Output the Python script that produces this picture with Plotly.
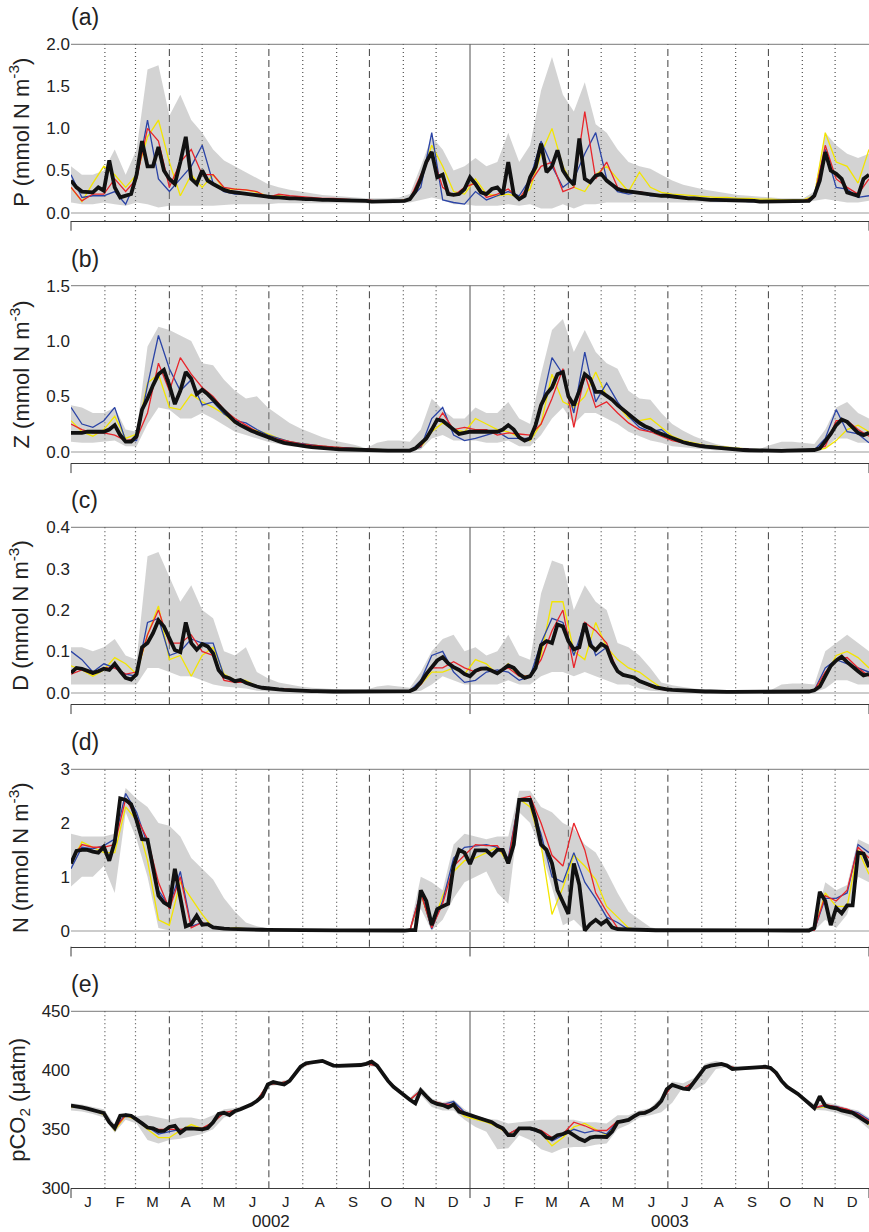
import plotly.graph_objects as go

# ---------------- time grids (days since 1 Jan of year 0002, 365-day years) ----------------
days_fine = list(range(0, 731, 5))      # mean curves
days_coarse = list(range(0, 731, 10))   # ensemble spread and members

month_lengths = [31, 28, 31, 30, 31, 30, 31, 31, 30, 31, 30, 31]
month_letters = ["J", "F", "M", "A", "M", "J", "J", "A", "S", "O", "N", "D"]
year_labels = ["0002", "0003"]

# ---------------- (a) P ----------------
P_mean = [0.38,0.30,0.25,0.24,0.24,0.30,0.26,0.62,0.30,0.18,
          0.20,0.22,0.45,0.85,0.55,0.55,0.78,0.50,0.40,0.34,
          0.60,0.90,0.40,0.34,0.50,0.38,0.34,0.30,0.27,0.25,
          0.24,0.23,0.22,0.21,0.21,0.20,0.19,0.18,0.18,0.17,
          0.17,0.17,0.16,0.16,0.16,0.15,0.15,0.15,0.15,0.14,
          0.14,0.14,0.14,0.14,0.14,0.13,0.13,0.13,0.13,0.13,
          0.13,0.14,0.16,0.25,0.40,0.60,0.72,0.42,0.45,0.22,
          0.21,0.22,0.28,0.42,0.34,0.24,0.22,0.28,0.30,0.22,
          0.60,0.22,0.16,0.20,0.42,0.54,0.82,0.48,0.55,0.74,
          0.50,0.40,0.33,0.88,0.40,0.36,0.44,0.46,0.38,0.33,
          0.28,0.26,0.25,0.24,0.23,0.22,0.22,0.21,0.20,0.20,
          0.19,0.18,0.18,0.17,0.17,0.16,0.16,0.15,0.15,0.15,
          0.15,0.14,0.14,0.14,0.14,0.14,0.13,0.13,0.13,0.13,
          0.13,0.13,0.13,0.13,0.14,0.14,0.20,0.38,0.72,0.50,
          0.46,0.40,0.24,0.22,0.20,0.40,0.45]
P_lo = [0.12,0.10,0.10,0.12,0.10,0.08,0.12,0.10,0.06,0.08,
        0.08,0.08,0.08,0.08,0.09,0.10,0.10,0.10,0.10,0.11,
        0.11,0.11,0.11,0.11,0.11,0.11,0.11,0.11,0.11,0.11,
        0.11,0.12,0.15,0.18,0.15,0.10,0.10,0.08,0.08,0.08,
        0.10,0.08,0.10,0.05,0.05,0.10,0.05,0.10,0.10,0.12,
        0.12,0.12,0.12,0.12,0.12,0.12,0.12,0.12,0.12,0.12,
        0.12,0.12,0.12,0.12,0.12,0.12,0.12,0.12,0.14,0.16,
        0.14,0.12,0.12,0.14]
P_hi = [0.55,0.45,0.45,0.50,0.75,0.45,0.75,1.70,1.75,1.15,
        1.40,1.10,0.95,0.75,0.62,0.55,0.48,0.40,0.34,0.30,
        0.27,0.25,0.23,0.21,0.20,0.19,0.18,0.17,0.17,0.17,
        0.18,0.22,0.55,0.90,0.75,0.50,0.55,0.65,0.55,0.60,
        0.95,0.60,0.80,1.45,1.85,1.40,1.20,1.55,1.05,0.95,
        0.75,0.60,0.55,0.52,0.45,0.38,0.33,0.30,0.27,0.25,
        0.23,0.21,0.20,0.19,0.18,0.17,0.17,0.17,0.25,0.95,
        0.80,0.70,0.65,0.70]
P_red = [0.30,0.14,0.22,0.22,0.40,0.25,0.40,1.00,0.85,0.30,
         0.60,0.75,0.45,0.45,0.30,0.28,0.27,0.25,0.18,0.22,
         0.20,0.19,0.18,0.17,0.17,0.16,0.15,0.15,0.14,0.14,
         0.14,0.16,0.45,0.70,0.30,0.20,0.30,0.35,0.18,0.22,
         0.28,0.16,0.35,0.55,0.60,0.25,0.30,1.20,0.40,0.60,
         0.30,0.25,0.25,0.22,0.20,0.19,0.18,0.17,0.16,0.15,
         0.15,0.14,0.14,0.13,0.13,0.13,0.13,0.14,0.18,0.80,
         0.40,0.30,0.22,0.40]
P_blue = [0.45,0.18,0.20,0.20,0.25,0.10,0.40,1.10,0.40,0.25,
          0.40,0.55,0.80,0.35,0.25,0.22,0.22,0.22,0.20,0.18,
          0.18,0.17,0.17,0.16,0.15,0.15,0.14,0.14,0.14,0.13,
          0.13,0.16,0.30,0.95,0.15,0.12,0.10,0.25,0.15,0.20,
          0.25,0.20,0.40,0.85,0.55,0.30,0.40,0.70,0.95,0.40,
          0.25,0.22,0.24,0.20,0.20,0.18,0.17,0.16,0.15,0.14,
          0.14,0.14,0.13,0.13,0.13,0.13,0.13,0.13,0.20,0.75,
          0.30,0.28,0.18,0.20]
P_yellow = [0.30,0.13,0.35,0.55,0.45,0.30,0.45,0.90,1.10,0.60,
            0.20,0.45,0.30,0.45,0.28,0.28,0.27,0.24,0.20,0.20,
            0.18,0.17,0.16,0.16,0.15,0.15,0.14,0.14,0.13,0.13,
            0.14,0.16,0.40,0.80,0.55,0.25,0.22,0.40,0.22,0.20,
            0.22,0.18,0.28,0.70,1.00,0.55,0.30,0.25,0.45,0.55,
            0.40,0.25,0.48,0.30,0.24,0.22,0.21,0.20,0.19,0.18,
            0.18,0.17,0.17,0.16,0.16,0.15,0.15,0.15,0.20,0.95,
            0.60,0.55,0.35,0.75]

# ---------------- (b) Z ----------------
Z_mean = [0.17,0.17,0.17,0.18,0.18,0.18,0.18,0.20,0.24,0.15,
          0.09,0.09,0.14,0.38,0.48,0.60,0.70,0.74,0.60,0.43,
          0.55,0.72,0.66,0.52,0.56,0.52,0.47,0.43,0.37,0.32,
          0.27,0.24,0.21,0.19,0.17,0.15,0.13,0.11,0.095,0.08,
          0.07,0.06,0.055,0.048,0.042,0.036,0.032,0.028,0.025,0.022,
          0.02,0.017,0.015,0.013,0.012,0.011,0.015,0.012,0.01,0.01,
          0.01,0.01,0.01,0.03,0.07,0.12,0.20,0.29,0.28,0.24,
          0.19,0.16,0.17,0.18,0.18,0.18,0.18,0.18,0.18,0.20,
          0.24,0.20,0.13,0.10,0.12,0.24,0.42,0.52,0.58,0.70,
          0.72,0.50,0.42,0.55,0.70,0.66,0.54,0.54,0.51,0.47,
          0.42,0.38,0.33,0.29,0.26,0.23,0.21,0.18,0.16,0.14,
          0.12,0.10,0.085,0.072,0.06,0.052,0.045,0.04,0.034,0.03,
          0.025,0.021,0.018,0.015,0.013,0.011,0.01,0.008,0.007,0.007,
          0.008,0.009,0.01,0.01,0.01,0.012,0.015,0.03,0.09,0.16,
          0.24,0.29,0.27,0.22,0.17,0.15,0.17]
Z_lo = [0.09,0.08,0.08,0.09,0.10,0.05,0.05,0.25,0.40,0.38,
        0.30,0.30,0.35,0.30,0.24,0.18,0.15,0.12,0.09,0.07,
        0.05,0.04,0.03,0.02,0.015,0.01,0.008,0.005,0.004,0.004,
        0.004,0.005,0.02,0.12,0.15,0.10,0.10,0.10,0.08,0.08,
        0.10,0.05,0.05,0.15,0.30,0.40,0.25,0.35,0.35,0.30,
        0.25,0.18,0.14,0.10,0.08,0.05,0.04,0.03,0.02,0.01,
        0.01,0.005,0.003,0.003,0.003,0.003,0.003,0.003,0.005,0.03,
        0.12,0.12,0.08,0.08]
Z_hi = [0.42,0.40,0.35,0.35,0.40,0.20,0.18,0.95,1.13,1.10,
        1.05,1.00,0.80,0.78,0.65,0.55,0.48,0.50,0.40,0.33,
        0.26,0.21,0.17,0.13,0.10,0.08,0.06,0.03,0.08,0.10,
        0.10,0.09,0.20,0.48,0.38,0.30,0.30,0.40,0.35,0.35,
        0.45,0.30,0.25,0.70,1.10,1.20,0.90,1.10,0.90,0.80,
        0.75,0.55,0.48,0.47,0.35,0.25,0.19,0.14,0.10,0.07,
        0.05,0.04,0.03,0.025,0.06,0.09,0.09,0.08,0.07,0.20,
        0.40,0.45,0.35,0.30]
Z_red = [0.25,0.20,0.17,0.17,0.15,0.10,0.12,0.35,0.80,0.55,
         0.85,0.70,0.58,0.50,0.38,0.30,0.24,0.18,0.14,0.11,
         0.09,0.07,0.058,0.048,0.04,0.034,0.028,0.022,0.018,0.014,
         0.011,0.01,0.05,0.20,0.35,0.20,0.22,0.20,0.20,0.15,
         0.17,0.16,0.15,0.25,0.48,0.75,0.22,0.70,0.40,0.45,
         0.35,0.26,0.20,0.18,0.14,0.10,0.08,0.065,0.05,0.04,
         0.03,0.024,0.018,0.014,0.011,0.009,0.009,0.01,0.015,0.05,
         0.28,0.28,0.20,0.14]
Z_blue = [0.40,0.25,0.22,0.28,0.40,0.10,0.10,0.60,1.05,0.75,
          0.55,0.65,0.42,0.45,0.34,0.28,0.26,0.20,0.15,0.12,
          0.09,0.075,0.06,0.05,0.042,0.035,0.03,0.024,0.02,0.016,
          0.013,0.012,0.04,0.30,0.40,0.15,0.10,0.12,0.15,0.18,
          0.12,0.12,0.12,0.40,0.85,0.70,0.35,0.90,0.45,0.62,
          0.45,0.32,0.22,0.18,0.20,0.12,0.09,0.07,0.055,0.045,
          0.035,0.028,0.022,0.017,0.013,0.01,0.01,0.01,0.015,0.12,
          0.38,0.18,0.16,0.08]
Z_yellow = [0.28,0.18,0.14,0.20,0.32,0.12,0.16,0.62,0.70,0.40,
            0.38,0.52,0.45,0.40,0.34,0.26,0.22,0.19,0.16,0.12,
            0.09,0.075,0.06,0.05,0.042,0.035,0.03,0.025,0.02,0.016,
            0.012,0.01,0.04,0.18,0.26,0.20,0.18,0.30,0.25,0.20,
            0.18,0.13,0.10,0.25,0.70,0.45,0.40,0.50,0.72,0.50,
            0.42,0.30,0.28,0.30,0.22,0.14,0.10,0.08,0.06,0.05,
            0.04,0.03,0.024,0.018,0.014,0.011,0.01,0.01,0.012,0.03,
            0.10,0.20,0.24,0.18]

# ---------------- (c) D ----------------
D_mean = [0.048,0.060,0.058,0.052,0.048,0.052,0.058,0.055,0.070,0.052,
          0.036,0.032,0.045,0.110,0.120,0.144,0.175,0.160,0.130,0.103,
          0.098,0.170,0.120,0.104,0.118,0.112,0.095,0.055,0.039,0.035,
          0.028,0.031,0.024,0.019,0.015,0.012,0.010,0.009,0.008,0.007,
          0.006,0.006,0.005,0.005,0.004,0.004,0.003,0.003,0.003,0.003,
          0.003,0.002,0.002,0.002,0.002,0.002,0.002,0.002,0.002,0.003,
          0.003,0.003,0.004,0.010,0.025,0.045,0.063,0.078,0.086,0.071,
          0.062,0.055,0.045,0.040,0.053,0.058,0.059,0.052,0.047,0.056,
          0.066,0.060,0.045,0.036,0.040,0.060,0.115,0.125,0.120,0.165,
          0.160,0.125,0.105,0.110,0.168,0.115,0.103,0.118,0.110,0.075,
          0.052,0.043,0.040,0.037,0.028,0.022,0.018,0.013,0.010,0.008,
          0.007,0.006,0.005,0.004,0.004,0.003,0.003,0.003,0.002,0.002,
          0.002,0.002,0.002,0.002,0.002,0.002,0.002,0.002,0.002,0.002,
          0.002,0.002,0.002,0.002,0.002,0.003,0.006,0.015,0.040,0.065,
          0.078,0.087,0.074,0.062,0.052,0.042,0.045]
D_lo = [0.02,0.02,0.02,0.02,0.02,0.02,0.02,0.06,0.06,0.05,
        0.04,0.04,0.03,0.02,0.015,0.012,0.01,0.005,0.003,0.002,
        0.002,0.001,0.001,0.001,0.001,0.001,0.001,0.001,0.001,0.001,
        0.001,0.001,0.005,0.02,0.04,0.03,0.02,0.02,0.02,0.02,
        0.03,0.02,0.02,0.04,0.05,0.05,0.04,0.05,0.04,0.03,
        0.02,0.02,0.01,0.005,0.003,0.002,0.001,0.001,0.001,0.001,
        0.001,0.001,0.001,0.001,0.001,0.001,0.001,0.001,0.001,0.01,
        0.03,0.03,0.02,0.02]
D_hi = [0.11,0.11,0.10,0.11,0.13,0.09,0.08,0.33,0.34,0.28,
        0.22,0.26,0.20,0.18,0.10,0.09,0.11,0.05,0.035,0.025,
        0.02,0.015,0.012,0.01,0.008,0.007,0.007,0.007,0.015,0.018,
        0.015,0.012,0.05,0.10,0.13,0.14,0.10,0.11,0.09,0.10,
        0.14,0.09,0.08,0.24,0.32,0.31,0.20,0.26,0.22,0.20,
        0.12,0.11,0.09,0.06,0.025,0.018,0.014,0.01,0.008,0.007,
        0.006,0.006,0.006,0.006,0.006,0.02,0.022,0.022,0.02,0.10,
        0.12,0.14,0.12,0.10]
D_red = [0.045,0.055,0.045,0.06,0.06,0.045,0.05,0.14,0.20,0.12,
         0.12,0.14,0.10,0.09,0.03,0.025,0.025,0.015,0.011,0.009,
         0.007,0.006,0.005,0.004,0.004,0.003,0.003,0.003,0.002,0.002,
         0.003,0.004,0.02,0.06,0.06,0.075,0.06,0.05,0.06,0.05,
         0.06,0.04,0.04,0.08,0.15,0.20,0.06,0.17,0.15,0.12,
         0.05,0.04,0.03,0.015,0.008,0.006,0.005,0.004,0.003,0.003,
         0.002,0.002,0.002,0.002,0.002,0.002,0.002,0.002,0.006,0.05,
         0.08,0.085,0.06,0.04]
D_blue = [0.10,0.08,0.05,0.07,0.06,0.045,0.04,0.17,0.18,0.09,
          0.10,0.13,0.12,0.12,0.04,0.03,0.025,0.015,0.011,0.009,
          0.007,0.006,0.005,0.004,0.004,0.003,0.003,0.003,0.002,0.002,
          0.003,0.004,0.03,0.09,0.10,0.05,0.025,0.03,0.05,0.055,
          0.05,0.03,0.04,0.12,0.18,0.17,0.09,0.17,0.09,0.11,
          0.05,0.04,0.03,0.02,0.009,0.006,0.005,0.004,0.003,0.003,
          0.002,0.002,0.002,0.002,0.002,0.002,0.002,0.002,0.006,0.06,
          0.08,0.07,0.06,0.05]
D_yellow = [0.065,0.055,0.04,0.055,0.085,0.07,0.045,0.14,0.21,0.08,
            0.09,0.04,0.09,0.11,0.045,0.03,0.03,0.015,0.011,0.009,
            0.007,0.006,0.005,0.004,0.004,0.003,0.003,0.003,0.002,0.002,
            0.003,0.004,0.02,0.05,0.05,0.06,0.045,0.08,0.07,0.045,
            0.07,0.04,0.04,0.09,0.22,0.22,0.10,0.08,0.17,0.11,
            0.08,0.06,0.05,0.03,0.012,0.008,0.006,0.005,0.004,0.003,
            0.003,0.003,0.003,0.003,0.003,0.003,0.003,0.003,0.006,0.04,
            0.09,0.10,0.085,0.06]

# ---------------- (d) N ----------------
N_mean = [1.25,1.48,1.50,1.50,1.47,1.45,1.56,1.30,1.65,2.46,
          2.43,2.35,2.05,1.70,1.69,1.19,0.65,0.52,0.46,1.15,
          0.60,0.08,0.12,0.28,0.11,0.12,0.06,0.04,0.035,0.03,
          0.03,0.025,0.025,0.02,0.02,0.015,0.012,0.01,0.008,0.007,
          0.006,0.005,0.004,0.004,0.003,0.003,0.003,0.002,0.002,0.002,
          0.002,0.001,0.001,0.001,0.001,0.001,0.001,0.001,0.001,0.001,
          0.001,0.001,0.01,0.01,0.75,0.55,0.10,0.40,0.45,0.50,
          1.20,1.50,1.45,1.24,1.49,1.49,1.49,1.40,1.50,1.50,
          1.25,1.60,2.43,2.43,2.43,2.08,1.60,1.50,1.25,0.75,
          0.52,0.31,1.25,0.85,0.00,0.12,0.20,0.12,0.19,0.06,
          0.025,0.02,0.015,0.012,0.01,0.008,0.007,0.006,0.006,0.005,
          0.004,0.004,0.003,0.003,0.003,0.002,0.002,0.002,0.002,0.001,
          0.001,0.001,0.001,0.001,0.001,0.001,0.001,0.001,0.001,0.001,
          0.001,0.001,0.001,0.001,0.001,0.001,0.05,0.72,0.55,0.10,
          0.42,0.32,0.47,0.47,1.45,1.43,1.18]
N_lo = [0.82,1.00,1.00,1.20,0.70,2.20,1.70,1.00,0.05,0.00,
        0.00,0.00,0.00,0.00,0.00,0.00,0.00,0.00,0.00,0.00,
        0.00,0.00,0.00,0.00,0.00,0.00,0.00,0.00,0.00,0.00,
        0.00,0.00,0.40,0.00,0.20,0.60,0.90,1.00,1.10,0.70,
        0.50,2.20,2.00,1.50,0.80,0.10,0.20,0.00,0.00,0.00,
        0.00,0.00,0.00,0.00,0.00,0.00,0.00,0.00,0.00,0.00,
        0.00,0.00,0.00,0.00,0.00,0.00,0.00,0.00,0.00,0.20,
        0.05,0.30,1.00,0.90]
N_hi = [1.80,1.75,1.75,1.75,1.80,2.65,2.45,2.30,2.00,1.95,
        1.75,1.35,1.15,0.95,0.60,0.35,0.15,0.08,0.04,0.02,
        0.01,0.01,0.01,0.01,0.01,0.01,0.01,0.01,0.01,0.01,
        0.01,0.05,1.00,0.90,0.75,1.60,1.80,1.75,1.70,1.75,
        1.75,2.60,2.60,2.30,2.20,2.00,1.90,1.60,1.45,1.10,
        0.70,0.35,0.20,0.06,0.02,0.01,0.01,0.01,0.01,0.01,
        0.01,0.01,0.01,0.01,0.01,0.01,0.01,0.01,0.10,0.90,
        0.75,0.85,1.70,1.60]
N_red = [1.30,1.60,1.55,1.55,1.60,2.45,2.10,1.70,0.90,0.40,
         1.00,0.05,0.15,0.05,0.03,0.03,0.025,0.02,0.015,0.01,
         0.006,0.005,0.004,0.003,0.003,0.002,0.002,0.001,0.001,0.001,
         0.001,0.001,0.70,0.05,0.50,1.20,1.40,1.60,1.58,1.58,
         1.30,2.45,2.50,2.00,1.40,1.20,2.00,1.50,0.70,0.35,
         0.05,0.01,0.01,0.008,0.006,0.004,0.003,0.002,0.002,0.001,
         0.001,0.001,0.001,0.001,0.001,0.001,0.001,0.001,0.01,0.65,
         0.55,0.75,1.55,1.35]
N_blue = [1.15,1.55,1.52,1.58,1.70,2.55,2.20,1.60,0.75,0.45,
          1.10,0.08,0.15,0.05,0.03,0.03,0.025,0.02,0.015,0.01,
          0.006,0.005,0.004,0.003,0.003,0.002,0.002,0.001,0.001,0.001,
          0.001,0.001,0.72,0.03,0.55,1.35,1.55,1.58,1.60,1.55,
          1.35,2.45,2.40,1.80,1.00,0.90,1.45,0.90,0.60,0.25,
          0.15,0.02,0.01,0.008,0.006,0.004,0.003,0.002,0.002,0.001,
          0.001,0.001,0.001,0.001,0.001,0.001,0.001,0.001,0.01,0.60,
          0.60,0.70,1.60,1.45]
N_yellow = [1.25,1.65,1.55,1.45,1.45,2.30,2.05,1.30,0.20,0.10,
            0.90,0.60,0.30,0.05,0.03,0.05,0.03,0.02,0.015,0.01,
            0.006,0.005,0.004,0.003,0.003,0.002,0.002,0.001,0.001,0.001,
            0.001,0.001,0.68,0.05,0.65,1.10,1.30,1.35,1.45,1.55,
            1.25,2.45,2.30,1.60,0.30,0.80,1.40,1.20,0.95,0.45,
            0.25,0.05,0.01,0.008,0.006,0.004,0.003,0.002,0.002,0.001,
            0.001,0.001,0.001,0.001,0.001,0.001,0.001,0.001,0.01,0.70,
            0.45,0.45,1.50,1.05]

# ---------------- (e) pCO2 ----------------
C_mean = [370,369.5,368.6,367.5,366.4,365.3,363.8,356,351,361.5,
          362,361.5,358.5,355,351.5,350.8,348.5,348.6,352,353,
          347,350.5,350.8,350,350,351,356,363,364,362,
          365.5,367,369,371,374,378,388,390,389,388,
          391,397,403,406,406.5,407,408,406,404,403.8,
          404,404.5,404.2,404.5,405.5,407.3,404,397.5,391,386,
          382,378,375,372,383,378,373.5,371.5,370.5,368.6,
          371,365,363.5,362,360,358.5,357,356,353,350.8,
          345,345,350.8,350.8,350.8,349.5,347.5,343,342,345,
          346,348,345,342,340,343,343.8,343.8,343.5,348,
          356,357,358,361,363.6,364,366,369,374,384,
          387.6,386,384.5,384,390,397,402.5,404,405,405.4,
          404,401.1,401.5,401.7,402,402,402.3,403,402,398,
          391,386,383,380,376,372,368,378,370,368.5,
          367.8,366,365,364,361,358,355]
C_lo = [366,365,363,360,347,358,355,341,338,341,
        342,344,346,350,360,363,367.5,372.5,386.5,387.5,
        389.5,401.5,405,406.5,402.5,402.5,402.7,404,402.5,389.5,
        380.5,373.5,379,369,366,366,358,352,348,333,
        334,345,341,333,330,334,335,335,337,338,
        350,354,360,362,364.5,372.5,386,383,388.5,401,
        402.5,400,400.5,400.8,400.5,389.5,381.5,374.5,366.5,366,
        364,361,358,350]
C_hi = [372,371,369,367,354,364,361,362,360,358,
        360,360,358,362,367,368,370.5,375.5,389.5,390.5,
        392.5,404.5,408,409.5,405.5,405.5,405.7,407,405.5,392.5,
        383.5,376.5,386,376,373,375,367,362,359,358,
        355,356,357,358,358,358,358,356,356,355,
        362,362,366,368,377.5,390.5,389,393.5,405.5,408,
        405.5,403,403.5,403.8,403.5,392.5,384.5,377.5,371.5,373,
        371,368,366,360]
C_red = [370,368.8,366.5,363,350.5,362,359,352,350,350,
         350,351,351,356,364,366,369,374,388,389,
         391,403,406.5,408,404,404,404.2,405.5,404,391,
         382,375,383,374,371.5,371,363.5,360.5,357.5,353,
         346,351,351,349,343,346,356,353,349,349,
         357,358,363.6,366,374,387.6,384.5,390,402.5,405,
         404,401.5,402,402.3,402,391,383,376,368,371,
         369,367,363,357]
C_blue = [370.5,368.8,366.8,363.5,351,363,359.5,352,346,348,
          350,350,350,356,364,366,369,374,388,389,
          391,403,406.5,408,404,404,404.2,405.5,404,391,
          382,375,383,373.5,371,373.5,364.5,361,358,353,
          346,351,350,347,340,345,350,347,349,346,
          357,358,363.6,366,374,387.6,384.5,390,402.5,405,
          404,401.5,402,402.3,402,391,383,376,368,370,
          369.5,367,364,358]
C_yellow = [369,368.5,366.5,362.5,349,361.5,358,350,343,343,
            349,354,350.5,356,364,366,369,374,388,389,
            391,403,406.5,408,404,404,404.2,405.5,404,391,
            382,375,383,373,369.5,369.5,361,358.5,356,352,
            346,350.5,350.5,347,336,343,352,355,350,345,
            356,358,363.6,366,374,387.6,384.5,390,402.5,405,
            404,401.5,402,402.3,402,391,383,376,368,369,
            367,365,361.5,354]

panels = [
    dict(mean=P_mean, lo=P_lo, hi=P_hi, red=P_red, blue=P_blue, yellow=P_yellow,
         yrange=[-0.1, 2.0], ticks=[0, 0.5, 1.0, 1.5, 2.0], fmt=".1f",
         title="P (mmol N m<sup>-3</sup>)", letter="(a)"),
    dict(mean=Z_mean, lo=Z_lo, hi=Z_hi, red=Z_red, blue=Z_blue, yellow=Z_yellow,
         yrange=[-0.105, 1.5], ticks=[0, 0.5, 1.0, 1.5], fmt=".1f",
         title="Z (mmol N m<sup>-3</sup>)", letter="(b)"),
    dict(mean=D_mean, lo=D_lo, hi=D_hi, red=D_red, blue=D_blue, yellow=D_yellow,
         yrange=[-0.028, 0.4], ticks=[0, 0.1, 0.2, 0.3, 0.4], fmt=".1f",
         title="D (mmol N m<sup>-3</sup>)", letter="(c)"),
    dict(mean=N_mean, lo=N_lo, hi=N_hi, red=N_red, blue=N_blue, yellow=N_yellow,
         yrange=[-0.3, 3.0], ticks=[0, 1, 2, 3], fmt=".0f",
         title="N (mmol N m<sup>-3</sup>)", letter="(d)"),
    dict(mean=C_mean, lo=C_lo, hi=C_hi, red=C_red, blue=C_blue, yellow=C_yellow,
         yrange=[300, 450], ticks=[300, 350, 400, 450], fmt=".0f",
         title="pCO<sub>2</sub> (μatm)", letter="(e)"),
]

for p in panels:
    assert len(p["mean"]) == len(days_fine), (p["letter"], len(p["mean"]))
    for k in ("lo", "hi", "red", "blue", "yellow"):
        assert len(p[k]) == len(days_coarse), (p["letter"], k, len(p[k]))

# ---------------- layout geometry ----------------
W, H = 869, 1232
ML = 71
PW = W - ML
panel_px = [(44.3, 221.0), (285.7, 463.3), (527.3, 704.3), (769.3, 946.7), (1011.3, 1188.3)]

FONT = "Liberation Sans, Arial, Helvetica, sans-serif"
RED, BLUE, YELLOW = "#e8252b", "#2b44a6", "#f3e500"
BAND = "rgba(150,150,150,0.42)"
GRIDC = "#505050"

# month boundaries over two years
bounds = [0]
for _ in range(2):
    for ml in month_lengths:
        bounds.append(bounds[-1] + ml)
x_end = bounds[-1]
mid_months = [(bounds[k] + bounds[k + 1]) / 2 for k in range(24)]

fig = go.Figure()
shapes = []
annotations = []
layout = {}

for i, p in enumerate(panels, start=1):
    xa = "x" if i == 1 else f"x{i}"
    ya = "y" if i == 1 else f"y{i}"
    top, bot = panel_px[i - 1]

    fig.add_trace(go.Scatter(x=days_coarse, y=p["lo"], mode="lines", line=dict(width=0),
                             xaxis=xa, yaxis=ya, hoverinfo="skip", showlegend=False))
    fig.add_trace(go.Scatter(x=days_coarse, y=p["hi"], mode="lines", line=dict(width=0),
                             fill="tonexty", fillcolor=BAND,
                             xaxis=xa, yaxis=ya, hoverinfo="skip", showlegend=False))
    for key, col in (("yellow", YELLOW), ("blue", BLUE), ("red", RED)):
        fig.add_trace(go.Scatter(x=days_coarse, y=p[key], mode="lines",
                                 line=dict(color=col, width=1.3),
                                 xaxis=xa, yaxis=ya, showlegend=False))
    fig.add_trace(go.Scatter(x=days_fine, y=p["mean"], mode="lines",
                             line=dict(color="#111111", width=3.8),
                             xaxis=xa, yaxis=ya, showlegend=False))

    xkey = "xaxis" if i == 1 else f"xaxis{i}"
    ykey = "yaxis" if i == 1 else f"yaxis{i}"
    xdict = dict(domain=[0, 1], range=[0, x_end], anchor=ya, showgrid=False, zeroline=False,
                 showline=True, linecolor="#3a3a3a", linewidth=1, ticks="",
                 showticklabels=False, fixedrange=True, automargin=False)
    if i == len(panels):
        xdict.update(showticklabels=True, tickmode="array", tickvals=mid_months,
                     ticktext=month_letters * 2,
                     tickfont=dict(family=FONT, size=15, color="#222"))
    layout[xkey] = xdict
    layout[ykey] = dict(domain=[1 - bot / H, 1 - top / H], range=p["yrange"], anchor=xa,
                        tickmode="array", tickvals=p["ticks"], tickformat=p["fmt"],
                        showgrid=False, zeroline=(i < len(panels)), zerolinecolor="#cccccc",
                        zerolinewidth=1.5, showline=False, ticks="", automargin=False,
                        tickfont=dict(family=FONT, size=17, color="#222"), fixedrange=True)

    # top border line
    shapes.append(dict(type="line", xref=f"{xa} domain", yref=f"{ya} domain",
                       x0=0, x1=1, y0=1, y1=1, line=dict(color="#7a7a7a", width=1), layer="below"))
    # month / season / year boundaries
    for k in range(1, 24):
        d = bounds[k]
        if k % 12 == 0:
            dash, w = "solid", 1
        elif k % 3 == 0:
            dash, w = "7px,4px", 1.1
        else:
            dash, w = "1px,3px", 1.2
        shapes.append(dict(type="line", xref=xa, yref=f"{ya} domain", x0=d, x1=d, y0=0, y1=1,
                           line=dict(color=GRIDC, width=w, dash=dash), layer="below"))
    # small year ticks below the bottom axis
    for k in (0, 12, 24):
        shapes.append(dict(type="line", xref=f"{xa} domain", yref=f"{ya} domain",
                           x0=bounds[k] / x_end, x1=bounds[k] / x_end, y0=-0.055, y1=0,
                           line=dict(color="#3a3a3a", width=1)))

    # panel letter
    annotations.append(dict(text=p["letter"], xref="paper", yref="paper",
                            x=-0.002, y=1 - (top - 27) / H, xanchor="left", yanchor="middle",
                            showarrow=False, font=dict(family=FONT, size=23, color="#222")))
    # y-axis title
    annotations.append(dict(text=p["title"], xref="paper", yref="paper",
                            x=(19 - ML) / PW, y=1 - (top + bot) / 2 / H, textangle=-90,
                            xanchor="center", yanchor="middle", showarrow=False,
                            font=dict(family=FONT, size=22, color="#222")))

# year labels under the bottom panel
last_x = "x5"
for yi, lab in enumerate(year_labels):
    annotations.append(dict(text=lab, xref=last_x, yref="paper",
                            x=(bounds[12 * yi] + bounds[12 * yi + 12]) / 2, y=1 - 1221.5 / H,
                            xanchor="center", yanchor="middle", showarrow=False, borderpad=0,
                            font=dict(family=FONT, size=17, color="#222")))

fig.update_layout(width=W, height=H, margin=dict(l=ML, r=0, t=0, b=0, autoexpand=False),
                  plot_bgcolor="white", paper_bgcolor="white", showlegend=False,
                  font=dict(family=FONT, color="#222"),
                  shapes=shapes, annotations=annotations, **layout)

fig.write_html("out.html")
